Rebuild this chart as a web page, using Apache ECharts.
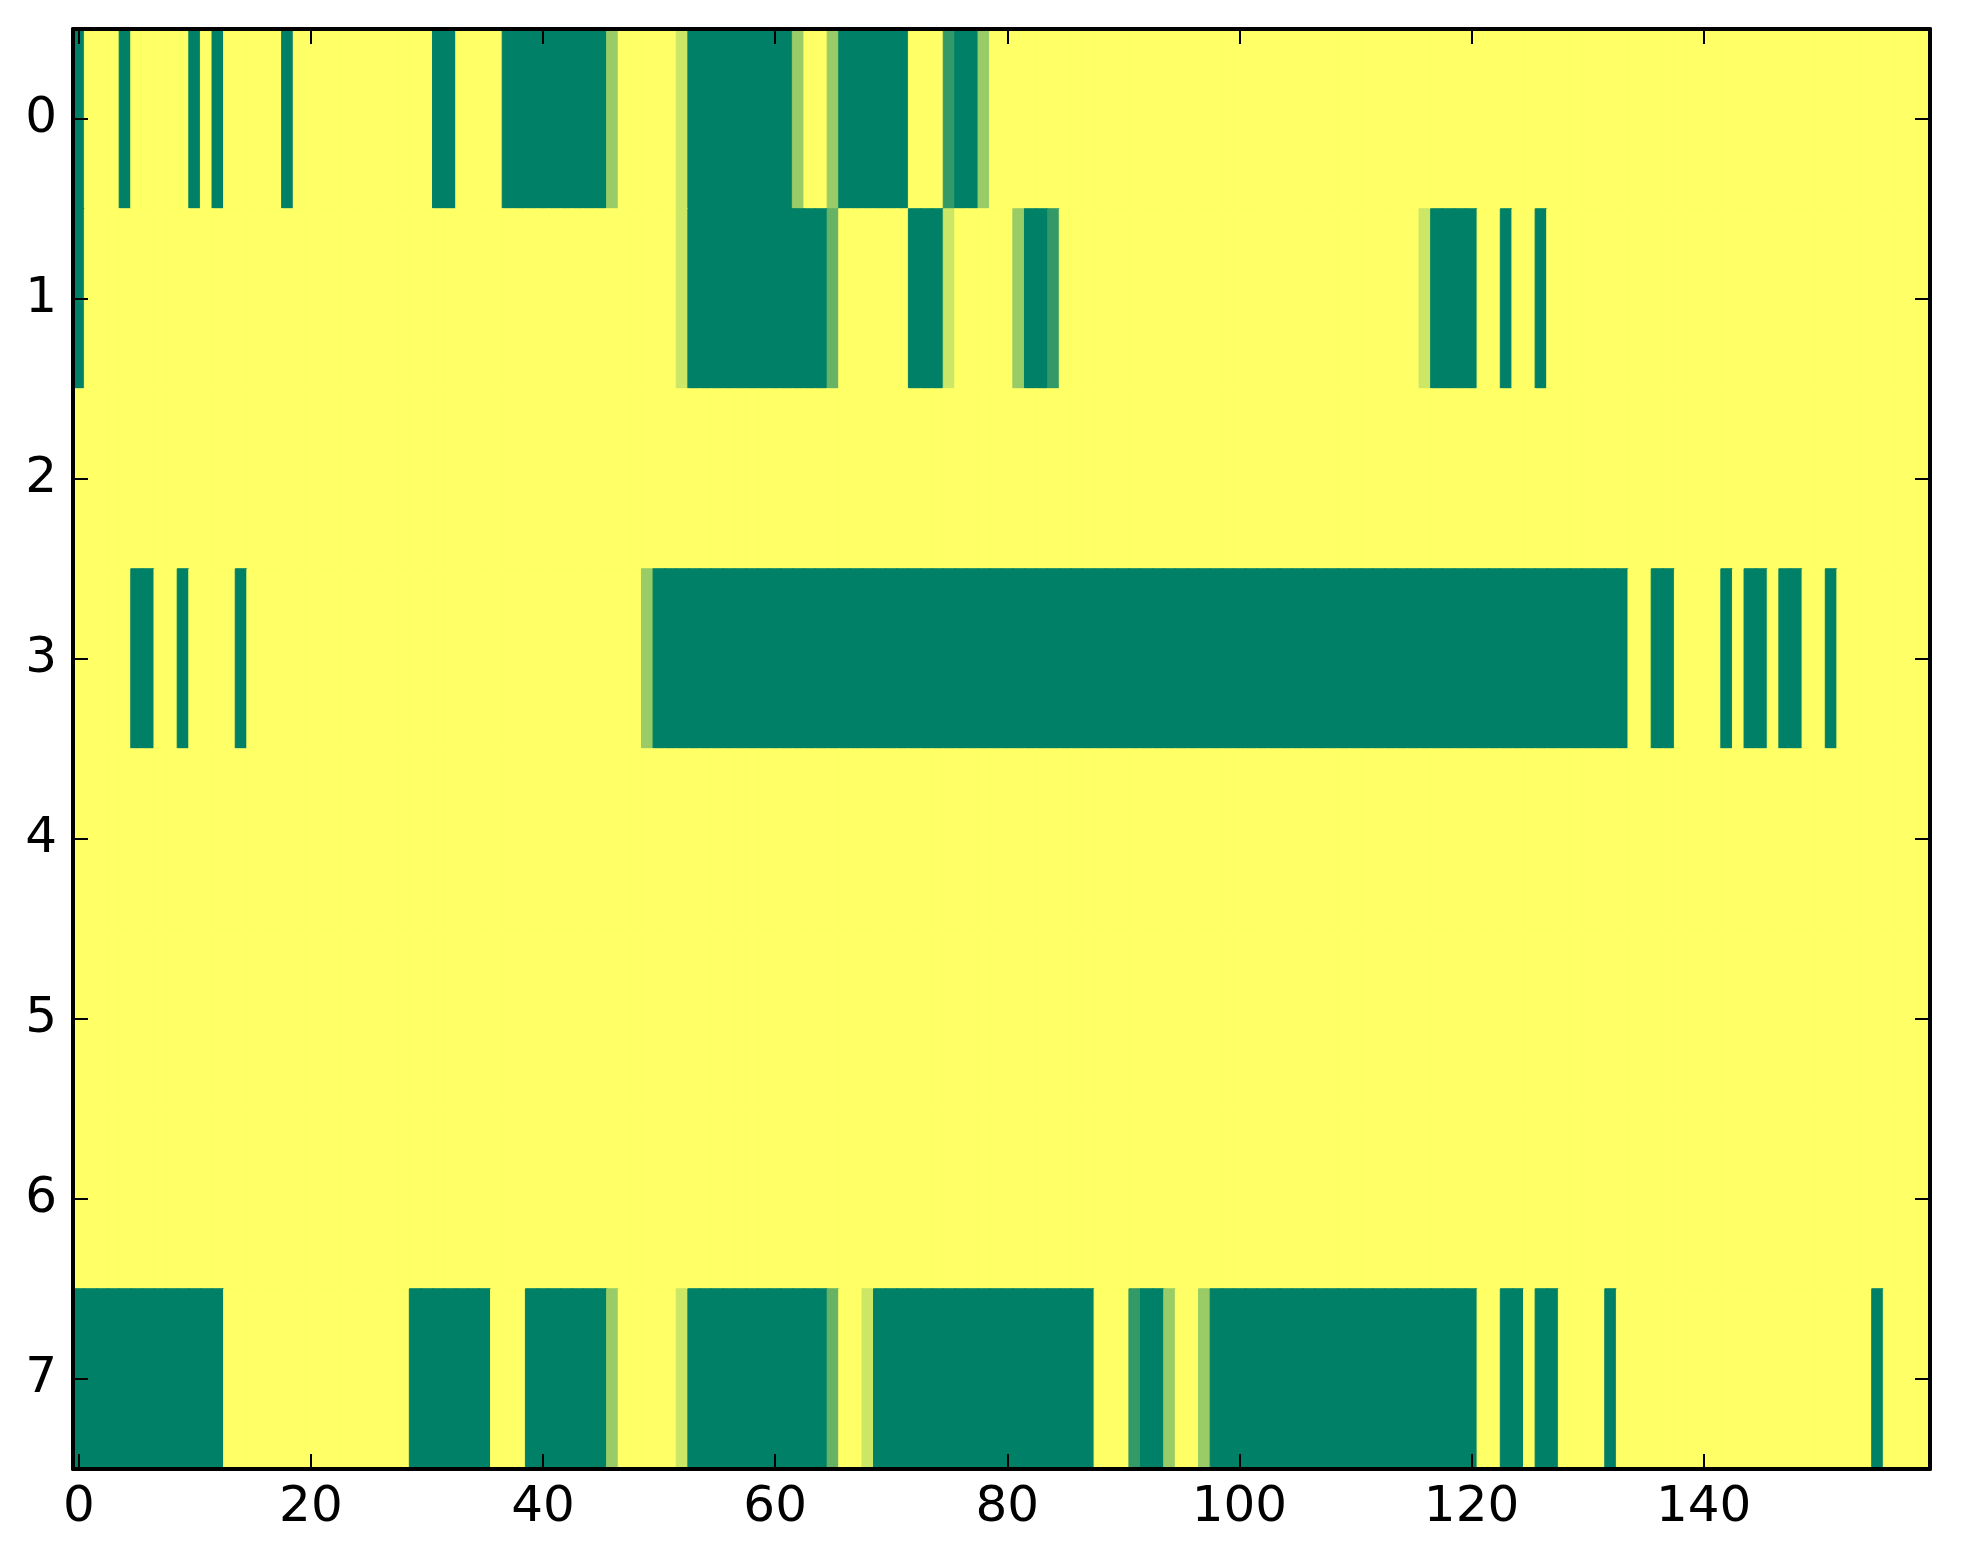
<!DOCTYPE html>
<html>
<head>
<meta charset="utf-8">
<script src="https://cdn.jsdelivr.net/npm/echarts@6/dist/echarts.min.js"></script>
<style>
html,body{margin:0;padding:0;background:#fff;}
#chart{width:1963px;height:1564px;}
</style>
</head>
<body>
<div id="chart"></div>
<script>
// Column indices 0..159, row indices 0..7
const xCategories = Array.from({length: 160}, (_, i) => String(i));
const yCategories = ['0','1','2','3','4','5','6','7'];
const xTickLabels = ['0','20','40','60','80','100','120','140'];

const row0 = [
  1,0,0,0,1,0,0,0,0,0,1,0,1,0,0,0,0,0,1,0,
  0,0,0,0,0,0,0,0,0,0,0,1,1,0,0,0,0,1,1,1,
  1,1,1,1,1,1,0.4,0,0,0,0,0,0.2,1,1,1,1,1,1,1,
  1,1,0.4,0,0,0.4,1,1,1,1,1,1,0,0,0,0.8,1,1,0.4,0,
  0,0,0,0,0,0,0,0,0,0,0,0,0,0,0,0,0,0,0,0,
  0,0,0,0,0,0,0,0,0,0,0,0,0,0,0,0,0,0,0,0,
  0,0,0,0,0,0,0,0,0,0,0,0,0,0,0,0,0,0,0,0,
  0,0,0,0,0,0,0,0,0,0,0,0,0,0,0,0,0,0,0,0
];
const row1 = [
  1,0,0,0,0,0,0,0,0,0,0,0,0,0,0,0,0,0,0,0,
  0,0,0,0,0,0,0,0,0,0,0,0,0,0,0,0,0,0,0,0,
  0,0,0,0,0,0,0,0,0,0,0,0,0.2,1,1,1,1,1,1,1,
  1,1,1,1,1,0.6,0,0,0,0,0,0,1,1,1,0.2,0,0,0,0,
  0,0.4,1,1,0.8,0,0,0,0,0,0,0,0,0,0,0,0,0,0,0,
  0,0,0,0,0,0,0,0,0,0,0,0,0,0,0,0,0.2,1,1,1,
  1,0,0,1,0,0,1,0,0,0,0,0,0,0,0,0,0,0,0,0,
  0,0,0,0,0,0,0,0,0,0,0,0,0,0,0,0,0,0,0,0
];
const row2 = [
  0,0,0,0,0,0,0,0,0,0,0,0,0,0,0,0,0,0,0,0,
  0,0,0,0,0,0,0,0,0,0,0,0,0,0,0,0,0,0,0,0,
  0,0,0,0,0,0,0,0,0,0,0,0,0,0,0,0,0,0,0,0,
  0,0,0,0,0,0,0,0,0,0,0,0,0,0,0,0,0,0,0,0,
  0,0,0,0,0,0,0,0,0,0,0,0,0,0,0,0,0,0,0,0,
  0,0,0,0,0,0,0,0,0,0,0,0,0,0,0,0,0,0,0,0,
  0,0,0,0,0,0,0,0,0,0,0,0,0,0,0,0,0,0,0,0,
  0,0,0,0,0,0,0,0,0,0,0,0,0,0,0,0,0,0,0,0
];
const row3 = [
  0,0,0,0,0,1,1,0,0,1,0,0,0,0,1,0,0,0,0,0,
  0,0,0,0,0,0,0,0,0,0,0,0,0,0,0,0,0,0,0,0,
  0,0,0,0,0,0,0,0,0,0.4,1,1,1,1,1,1,1,1,1,1,
  1,1,1,1,1,1,1,1,1,1,1,1,1,1,1,1,1,1,1,1,
  1,1,1,1,1,1,1,1,1,1,1,1,1,1,1,1,1,1,1,1,
  1,1,1,1,1,1,1,1,1,1,1,1,1,1,1,1,1,1,1,1,
  1,1,1,1,1,1,1,1,1,1,1,1,1,1,0,0,1,1,0,0,
  0,0,1,0,1,1,0,1,1,0,0,1,0,0,0,0,0,0,0,0
];
const row4 = [
  0,0,0,0,0,0,0,0,0,0,0,0,0,0,0,0,0,0,0,0,
  0,0,0,0,0,0,0,0,0,0,0,0,0,0,0,0,0,0,0,0,
  0,0,0,0,0,0,0,0,0,0,0,0,0,0,0,0,0,0,0,0,
  0,0,0,0,0,0,0,0,0,0,0,0,0,0,0,0,0,0,0,0,
  0,0,0,0,0,0,0,0,0,0,0,0,0,0,0,0,0,0,0,0,
  0,0,0,0,0,0,0,0,0,0,0,0,0,0,0,0,0,0,0,0,
  0,0,0,0,0,0,0,0,0,0,0,0,0,0,0,0,0,0,0,0,
  0,0,0,0,0,0,0,0,0,0,0,0,0,0,0,0,0,0,0,0
];
const row5 = [
  0,0,0,0,0,0,0,0,0,0,0,0,0,0,0,0,0,0,0,0,
  0,0,0,0,0,0,0,0,0,0,0,0,0,0,0,0,0,0,0,0,
  0,0,0,0,0,0,0,0,0,0,0,0,0,0,0,0,0,0,0,0,
  0,0,0,0,0,0,0,0,0,0,0,0,0,0,0,0,0,0,0,0,
  0,0,0,0,0,0,0,0,0,0,0,0,0,0,0,0,0,0,0,0,
  0,0,0,0,0,0,0,0,0,0,0,0,0,0,0,0,0,0,0,0,
  0,0,0,0,0,0,0,0,0,0,0,0,0,0,0,0,0,0,0,0,
  0,0,0,0,0,0,0,0,0,0,0,0,0,0,0,0,0,0,0,0
];
const row6 = [
  0,0,0,0,0,0,0,0,0,0,0,0,0,0,0,0,0,0,0,0,
  0,0,0,0,0,0,0,0,0,0,0,0,0,0,0,0,0,0,0,0,
  0,0,0,0,0,0,0,0,0,0,0,0,0,0,0,0,0,0,0,0,
  0,0,0,0,0,0,0,0,0,0,0,0,0,0,0,0,0,0,0,0,
  0,0,0,0,0,0,0,0,0,0,0,0,0,0,0,0,0,0,0,0,
  0,0,0,0,0,0,0,0,0,0,0,0,0,0,0,0,0,0,0,0,
  0,0,0,0,0,0,0,0,0,0,0,0,0,0,0,0,0,0,0,0,
  0,0,0,0,0,0,0,0,0,0,0,0,0,0,0,0,0,0,0,0
];
const row7 = [
  1,1,1,1,1,1,1,1,1,1,1,1,1,0,0,0,0,0,0,0,
  0,0,0,0,0,0,0,0,0,1,1,1,1,1,1,1,0,0,0,1,
  1,1,1,1,1,1,0.4,0,0,0,0,0,0.2,1,1,1,1,1,1,1,
  1,1,1,1,1,0.6,0,0,0.2,1,1,1,1,1,1,1,1,1,1,1,
  1,1,1,1,1,1,1,1,0,0,0,0.8,1,1,0.4,0,0,0.4,1,1,
  1,1,1,1,1,1,1,1,1,1,1,1,1,1,1,1,1,1,1,1,
  1,0,0,1,1,0,1,1,0,0,0,0,1,0,0,0,0,0,0,0,
  0,0,0,0,0,0,0,0,0,0,0,0,0,0,0,1,0,0,0,0
];
const rows = [row0, row1, row2, row3, row4, row5, row6, row7];

// matplotlib "summer_r" colormap: v=0 -> yellow, v=1 -> green
function summerR(v) {
  const r = Math.round(255 * (1 - v));
  const g = Math.round(255 * (1 - v / 2));
  const b = Math.round(255 * 0.4);
  return 'rgb(' + r + ',' + g + ',' + b + ')';
}

const cells = [];
rows.forEach((r, y) => r.forEach((v, x) => {
  const c = summerR(v);
  cells.push({value: [x, y, v], itemStyle: {color: c, borderColor: c, borderWidth: 1}});
}));

const FONT = 'DejaVu Sans';
const showTickX = (idx, val) => xTickLabels.indexOf(String(val)) >= 0;

const axisLineStyle = {show: true, lineStyle: {color: '#000', width: 4}};
const tickStyle = {show: true, inside: true, length: 15, lineStyle: {color: '#000', width: 2}};

const chart = echarts.init(document.getElementById('chart'), null, {renderer: 'canvas'});
chart.setOption({
  animation: false,
  backgroundColor: '#ffffff',
  grid: {left: 73, right: 33, top: 29, bottom: 95, containLabel: false},
  xAxis: [
    {
      type: 'category', data: xCategories, position: 'bottom', z: 10,
      axisLine: axisLineStyle,
      axisTick: Object.assign({}, tickStyle, {alignWithLabel: true, interval: showTickX}),
      axisLabel: {interval: showTickX, fontFamily: FONT, fontSize: 50, color: '#000', margin: 14},
      splitLine: {show: false}
    },
    {
      type: 'category', data: xCategories, position: 'top', z: 10,
      axisLine: axisLineStyle,
      axisTick: Object.assign({}, tickStyle, {alignWithLabel: true, interval: showTickX}),
      axisLabel: {show: false},
      splitLine: {show: false}
    }
  ],
  yAxis: [
    {
      type: 'category', data: yCategories, inverse: true, position: 'left', z: 10,
      axisLine: axisLineStyle,
      axisTick: Object.assign({}, tickStyle, {alignWithLabel: true, interval: 0}),
      axisLabel: {interval: 0, fontFamily: FONT, fontSize: 50, color: '#000', margin: 16},
      splitLine: {show: false}
    },
    {
      type: 'category', data: yCategories, inverse: true, position: 'right', z: 10,
      axisLine: axisLineStyle,
      axisTick: Object.assign({}, tickStyle, {alignWithLabel: true, interval: 0}),
      axisLabel: {show: false},
      splitLine: {show: false}
    }
  ],
  series: [{
    type: 'heatmap',
    xAxisIndex: 0, yAxisIndex: 0,
    data: cells,
    emphasis: {disabled: true},
    progressive: 0
  }]
});
</script>
</body>
</html>
